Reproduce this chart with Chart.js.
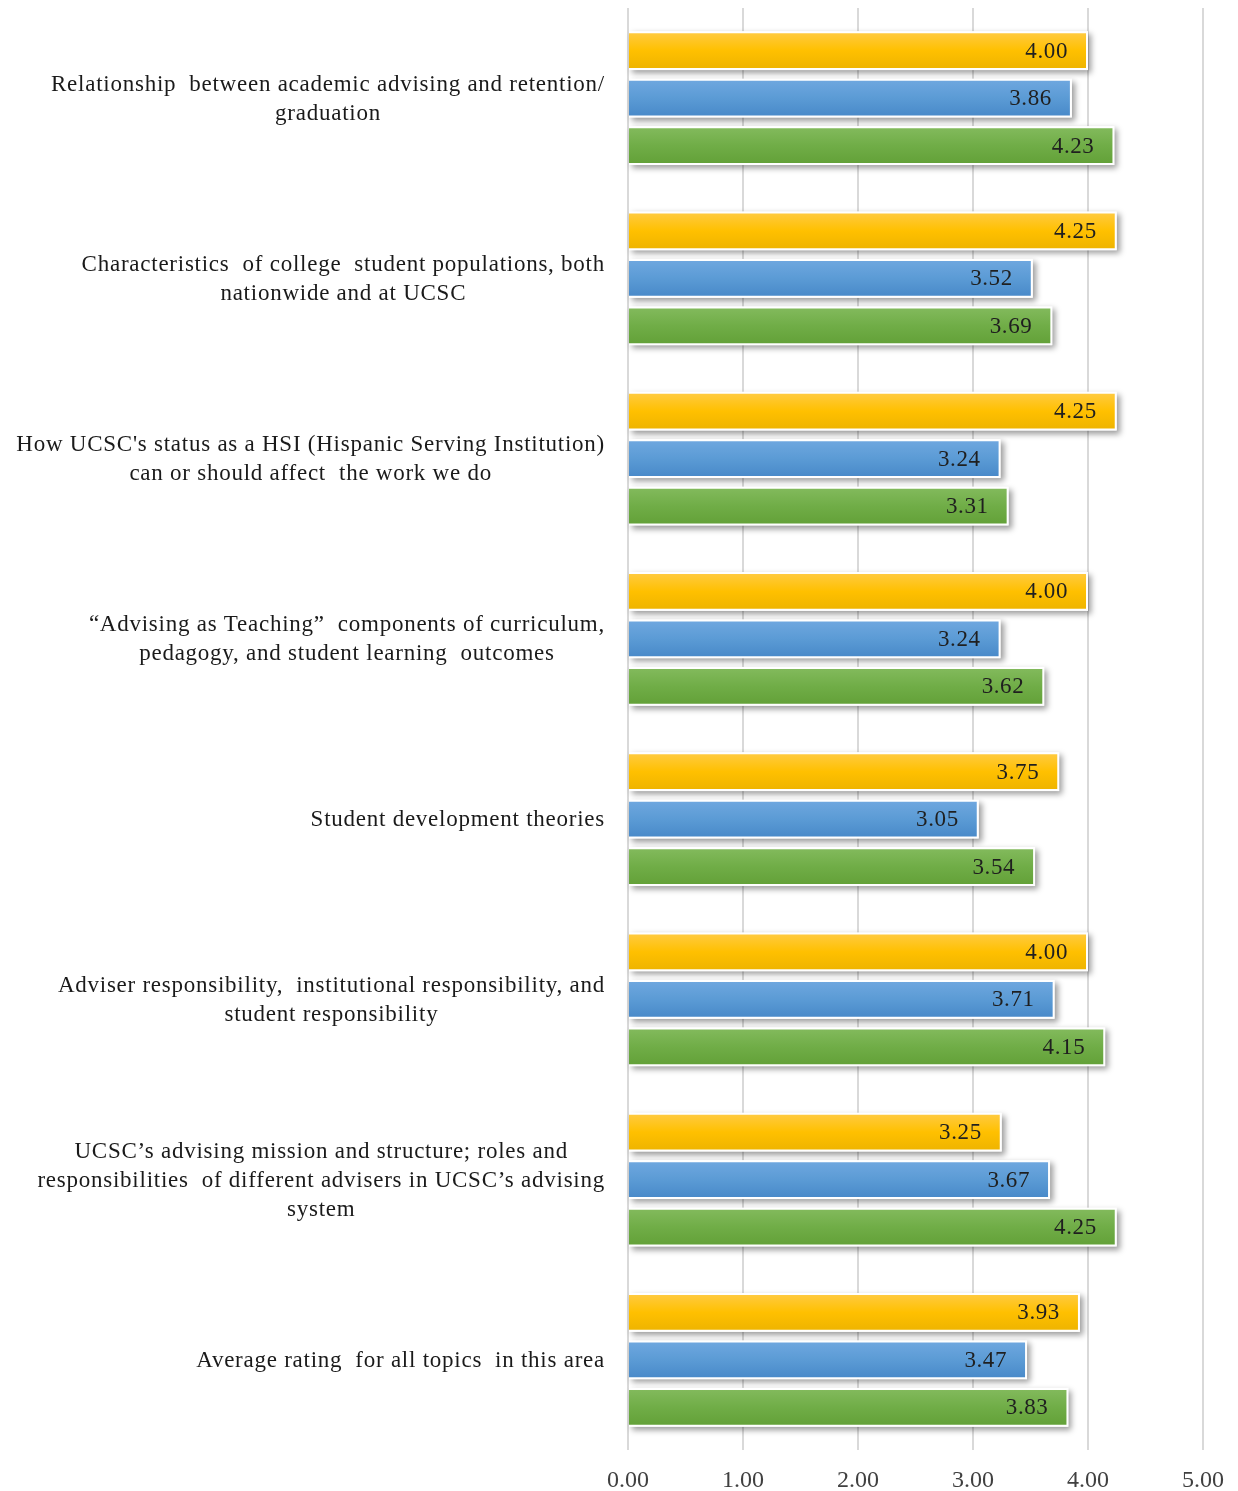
<!DOCTYPE html>
<html>
<head>
<meta charset="utf-8">
<script src="https://cdn.jsdelivr.net/npm/chart.js@4.4.1/dist/chart.umd.min.js"></script>
<style>
  html, body { margin: 0; padding: 0; background: #fff; }
</style>
</head>
<body>
<canvas id="myChart" width="1238" height="1491"></canvas>
<script>
// 資料
const categories = [
  ["Relationship  between academic advising and retention/", "graduation"],
  ["Characteristics  of college  student populations, both", "nationwide and at UCSC"],
  ["How UCSC's status as a HSI (Hispanic Serving Institution)", "can or should affect  the work we do"],
  ["\u201CAdvising as Teaching\u201D  components of curriculum,", "pedagogy, and student learning  outcomes"],
  ["Student development theories"],
  ["Adviser responsibility,  institutional responsibility, and", "student responsibility"],
  ["UCSC\u2019s advising mission and structure; roles and", "responsibilities  of different advisers in UCSC\u2019s advising", "system"],
  ["Average rating  for all topics  in this area"],
];
const seriesNames = ["Series 1", "Series 2", "Series 3"];
const yellowValues = [4.00, 4.25, 4.25, 4.00, 3.75, 4.00, 3.25, 3.93];
const blueValues = [3.86, 3.52, 3.24, 3.24, 3.05, 3.71, 3.67, 3.47];
const greenValues = [4.23, 3.69, 3.31, 3.62, 3.54, 4.15, 4.25, 3.83];
const xMin = 0;
const xMax = 5;

const FONT = "'Liberation Serif', 'DejaVu Serif', serif";

// 漸層填色
function makeFill(top, mid, bottom) {
  return (c) => {
    if (c.dataIndex === undefined) return mid;
    const el = c.chart.getDatasetMeta(c.datasetIndex).data[c.dataIndex];
    if (!el || el.y == null || isNaN(el.y) || !el.height) return mid;
    const g = c.chart.ctx.createLinearGradient(0, el.y - el.height / 2, 0, el.y + el.height / 2);
    g.addColorStop(0, top);
    g.addColorStop(0.5, mid);
    g.addColorStop(1, bottom);
    return g;
  };
}

// 陰影
const shadowPlugin = {
  id: "barShadow",
  beforeDatasetsDraw(chart) {
    const ctx = chart.ctx;
    ctx.save();
    ctx.shadowColor = "rgba(0,0,0,0.4)";
    ctx.shadowBlur = 6;
    ctx.shadowOffsetX = 3;
    ctx.shadowOffsetY = 3;
    ctx.fillStyle = "#ffffff";
    chart.data.datasets.forEach((ds, di) => {
      chart.getDatasetMeta(di).data.forEach((el) => {
        const left = Math.min(el.base, el.x);
        const w = Math.abs(el.x - el.base);
        ctx.fillRect(left, el.y - el.height / 2, w, el.height);
      });
    });
    ctx.restore();
  },
};

// 數值標籤
const valueLabelPlugin = {
  id: "valueLabels",
  afterDatasetsDraw(chart) {
    const ctx = chart.ctx;
    ctx.save();
    ctx.font = "23px " + FONT;
    ctx.letterSpacing = "0.6px";
    ctx.fillStyle = "#1f1f1f";
    ctx.textAlign = "right";
    ctx.textBaseline = "middle";
    chart.data.datasets.forEach((ds, di) => {
      chart.getDatasetMeta(di).data.forEach((el, i) => {
        ctx.fillText(ds.data[i].toFixed(2), el.x - 20, el.y + 1);
      });
    });
    ctx.restore();
  },
};

// 類別標籤 (區塊靠右, 每行置中)
const categoryLabelPlugin = {
  id: "categoryLabels",
  afterDraw(chart) {
    const ctx = chart.ctx;
    const yScale = chart.scales.y;
    const rightEdge = 605;
    const lineHeight = 29;
    ctx.save();
    ctx.font = "23px " + FONT;
    ctx.letterSpacing = "0.75px";
    ctx.fillStyle = "#1a1a1a";
    ctx.textAlign = "center";
    ctx.textBaseline = "middle";
    categories.forEach((lines, i) => {
      const cy = yScale.getPixelForTick(i) + 1;
      const maxW = Math.max(...lines.map((l) => ctx.measureText(l).width));
      const cx = rightEdge - maxW / 2;
      const startY = cy - ((lines.length - 1) * lineHeight) / 2;
      lines.forEach((l, k) => {
        ctx.fillText(l, cx, startY + k * lineHeight);
      });
    });
    ctx.restore();
  },
};

const ctx = document.getElementById("myChart").getContext("2d");
const chart = new Chart(ctx, {
  type: "bar",
  data: {
    labels: categories,
    datasets: [
      {
        label: seriesNames[0],
        data: yellowValues,
        backgroundColor: makeFill("#FFCB45", "#FFC000", "#EDB300"),
        borderColor: "#ffffff",
        borderWidth: 2,
      },
      {
        label: seriesNames[1],
        data: blueValues,
        backgroundColor: makeFill("#70A8E0", "#5B9BD5", "#4788C8"),
        borderColor: "#ffffff",
        borderWidth: 2,
      },
      {
        label: seriesNames[2],
        data: greenValues,
        backgroundColor: makeFill("#84BB5E", "#70AD47", "#62A037"),
        borderColor: "#ffffff",
        borderWidth: 2,
      },
    ],
  },
  plugins: [shadowPlugin, valueLabelPlugin, categoryLabelPlugin],
  options: {
    indexAxis: "y",
    responsive: false,
    animation: false,
    categoryPercentage: 0.79,
    barPercentage: 0.82,
    layout: {
      padding: { top: 8, right: 35, bottom: 0, left: 0 },
    },
    plugins: {
      legend: { display: false },
      tooltip: { enabled: false },
    },
    scales: {
      x: {
        min: xMin,
        max: xMax,
        grid: {
          color: "#d9d9d9",
          lineWidth: 2,
          drawTicks: false,
        },
        border: { display: false },
        ticks: {
          stepSize: 1,
          padding: 16,
          color: "#404040",
          font: { family: FONT, size: 24 },
          callback: (v) => Number(v).toFixed(2),
        },
        afterFit(scale) {
          scale.height = 41;
          scale.paddingLeft = 0;
          scale.paddingRight = 0;
        },
      },
      y: {
        grid: { display: false },
        border: { display: false },
        ticks: { display: false },
        afterFit(scale) {
          scale.width = 628;
        },
      },
    },
  },
});
// 再更新一次, 讓漸層取得長條位置
chart.update();
</script>
</body>
</html>
